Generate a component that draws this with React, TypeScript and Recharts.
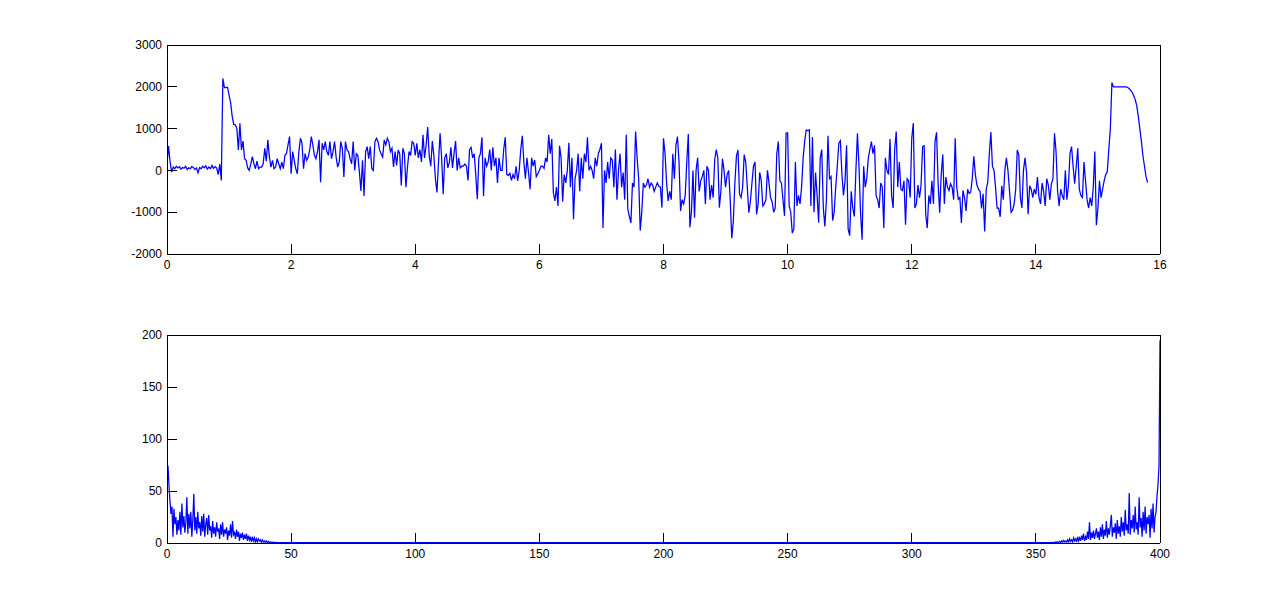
import React from 'react';
import { LineChart, Line, XAxis, YAxis } from 'recharts';

// ---------- top panel: signal (time in s) ----------
const TOP_STEP = 0.025;
const topValues = [
  150, 580, 200, -40, 80, 40, 100, 60, 90, 30,
  70, 50, 100, 20, 60, 40, 90, 70, 20, 60,
  -60, 70, 40, 100, 60, 110, 30, 80, 40, 120,
  50, 90, 60, -100, 150, -240, 2200, 1980, 1980, 1990,
  1800, 1620, 1300, 1100, 1090, 1010, 490, 1130, 490, 700,
  280, 240, 60, 0, 150, 330, 160, 40, 220, 40,
  80, 80, 160, 530, 220, 730, 320, 80, 240, 40,
  80, 280, 160, 40, 200, 40, 360, 400, 610, 810,
  -80, 450, 240, 40, -80, 450, 770, 650, 40, 400,
  240, 320, 490, 810, 610, 360, 280, 450, 730, -280,
  650, 490, 690, 450, 360, 690, 280, 450, 690, 320,
  80, 200, 690, 530, -160, 690, 490, 450, 280, 160,
  690, 0, 400, 360, -40, -490, 240, -610, 450, 570,
  280, 570, 40, 0, 690, 770, 690, 490, 400, 320,
  730, 610, 770, 690, 450, 530, 80, 450, 120, 490,
  400, -360, 530, 400, -400, 80, 450, 360, 690, 650,
  360, 650, 300, 500, 200, 850, 300, 600, 1040, 350,
  100, 700, 350, -200, -530, 200, 890, 300, -570, 300,
  400, 60, 200, 550, 60, 400, 700, 0, 300, 60,
  100, 100, 150, 100, -240, 500, 550, 300, 400, -100,
  -690, 300, 400, 790, -620, 300, 100, 200, 500, 0,
  550, 100, 300, -300, 300, 0, 0, 500, 790, -100,
  -120, -70, -240, -100, -200, 100, -250, 0, 500, 830,
  200, -200, 300, -50, -450, 300, 100, 250, -150, -80,
  0, 100, 100, 50, 300, 200, 850, 400, 750, -530,
  -730, -400, -850, 590, 300, -750, -100, -300, 0, 660,
  -400, 300, -1170, -200, 0, 400, -500, 300, -200, 400,
  200, 790, 0, 100, 0, -200, 300, 100, 400, 500,
  650, -1380, 0, -300, 200, -200, 300, 250, -400, 500,
  -700, 0, 400, -400, -50, -700, 850, -930, -1100, -1255,
  -300, -400, 930, 300, -200, -1440, -1000, -300, -400, -350,
  -200, -400, -300, -350, -500, -400, -300, -380, -400, -890,
  770, 400, -300, -730, -500, -700, 400, -200, 600, 810,
  200, -970, -700, -800, -600, 200, 870, -1360, -1000, 0,
  -1130, 0, 300, -500, -250, -150, 0, -810, 100, 0,
  -700, -350, -650, 250, 500, 300, -890, -500, 280, 0,
  -400, -100, 0, -700, -1620, -1215, -300, 340, 490, -570,
  -650, -400, 380, 200, -400, -1010, -750, -300, 100, 200,
  -1050, -800, -50, -240, -850, -800, -700, 0, -300, -650,
  -750, -1000, -900, 400, 690, -250, -300, -700, -1090, 890,
  900, -850, -1000, -1500, -1400, 200, -850, -600, -800, -400,
  300, 700, 970, 950, 970, -850, 800, -1000, -50, -600,
  -1250, 300, 500, -900, -1340, -700, 830, -200, -150, -1200,
  -1000, -400, 100, 650, 710, -100, -600, -250, 600, -1400,
  -1560, -500, -900, -1100, 0, 890, 100, -1000, -1660, 100,
  -400, -200, 300, 500, 690, 400, 600, -600, -700, -900,
  -300, -400, -1380, 300, 0, -100, 750, -600, -900, 500,
  930, -400, 200, -450, -480, -250, -1300, -200, -250, -650,
  770, 1130, -900, -800, -350, -650, -350, 570, 590, -1050,
  -1380, -600, -800, -250, -800, 690, 910, -320, -1010, -100,
  380, -800, -160, -400, -480, -320, -400, -700, 770, -400,
  -690, -650, -1255, -480, -650, -970, -450, -550, -520, -200,
  340, -100, -350, -450, -500, -910, -560, -1460, -450, -280,
  400, 915, 100, 0, -400, -900, -900, -1110, -370, -700,
  0, 300, 0, -480, -1000, -950, -800, -450, 490, 370,
  -650, -900, 0, 300, -50, -1050, -370, -450, -650, -450,
  -570, -160, -650, -800, -300, -500, -850, -200, -350, -700,
  -320, -200, 890, 450, -500, -850, -450, -600, -700, 0,
  -700, -350, 400, 570, 100, -320, 80, 530, -450, -600,
  -650, 200, -250, -700, -900, -650, -850, -400, 450, -1310,
  -900, -250, -650, -450, -250, -100, -40, 500, 1000, 2100,
  2000, 2000, 2000, 2000, 2000, 2000, 2000, 2000, 2000, 1990,
  1960, 1920, 1870, 1790, 1700, 1550, 1300, 1000, 700, 350,
  100, -150, -290,
];
const topXTicks = [0, 2, 4, 6, 8, 10, 12, 14, 16];
const topYTicks = [-2000, -1000, 0, 1000, 2000, 3000];

// ---------- bottom panel: spectrum magnitude ----------
const FFT_STEP = 0.4;
const fftLeft = [
  74, 74, 55, 40, 28, 35, 6, 33, 18, 25,
  8, 22, 12, 30, 8, 38, 15, 26, 10, 20,
  44, 9, 28, 14, 30, 6, 22, 47, 12, 25,
  9, 30, 14, 20, 7, 26, 11, 28, 6, 18,
  24, 8, 27, 12, 16, 5, 21, 9, 15, 6,
  20, 11, 14, 4, 18, 8, 20, 6, 13, 9,
  15, 3, 12, 7, 18, 5, 21, 8, 10, 4,
  13, 6, 11, 2, 9, 5, 10, 3, 8, 4,
  9, 2, 7, 3, 6, 1, 6, 2, 5, 1,
  4, 1, 4, 2, 3, 0.5, 3, 1, 2, 0.5,
  2, 0.5, 1.5, 0.3, 1.2, 0.3, 1, 0.3, 0.8, 0.3,
  0.5, 0.3, 0.4,
];
const fftMiddleX = [45, 355];
const fftMiddle = [0.3, 0.3];
const FFT_RIGHT_START = 355.2;
const fftRight = [
  0.3, 0.4, 0.3, 0.5, 0.3, 0.6, 0.4, 1, 0.4, 1.2,
  0.5, 1.5, 0.5, 2, 0.8, 2.5, 1, 2, 0.8, 3,
  1, 4, 1.5, 3, 1, 5, 2, 4, 1, 6,
  2, 5, 2, 7, 3, 9, 2, 6, 3, 11,
  4, 20, 3, 10, 5, 12, 4, 9, 14, 5,
  11, 3, 15, 6, 18, 4, 13, 7, 21, 5,
  14, 8, 17, 27, 6, 15, 10, 19, 4, 22,
  9, 16, 6, 25, 11, 20, 7, 32, 12, 18,
  9, 48, 8, 22, 14, 27, 10, 35, 13, 20,
  8, 44, 15, 24, 6, 30, 12, 35, 9, 25,
  18, 27, 5, 33, 14, 38, 10, 25, 30, 45,
  56, 74, 195,
];
const bottomXTicks = [0, 50, 100, 150, 200, 250, 300, 350, 400];
const bottomYTicks = [0, 50, 100, 150, 200];

const topData = topValues.map((v, i) => ({ x: +(i * TOP_STEP).toFixed(3), y: v }));
const bottomData = [
  ...fftLeft.map((v, i) => ({ x: +(i * FFT_STEP).toFixed(2), y: v })),
  ...fftMiddle.map((v, i) => ({ x: fftMiddleX[i], y: v })),
  ...fftRight.map((v, i) => ({ x: +(FFT_RIGHT_START + i * FFT_STEP).toFixed(2), y: v })),
];

const FONT = '"Liberation Sans", Arial, Helvetica, sans-serif';
const tickStyle = { fontSize: 12, fontFamily: FONT, fill: '#000' };
const lineProps = { stroke: '#000', strokeWidth: 1, shapeRendering: 'crispEdges' };

type PanelProps = {
  data: { x: number; y: number }[];
  xDomain: [number, number];
  xTicks: number[];
  yDomain: [number, number];
  yTicks: number[];
  top: number;
  margin: { top: number; right: number; bottom: number; left: number };
};

function Panel({ data, xDomain, xTicks, yDomain, yTicks, top, margin }: PanelProps) {
  return (
    <div style={{ position: 'absolute', left: 0, top, width: 1281, height: 305 }}>
      <LineChart width={1281} height={305} data={data} margin={margin}>
        <XAxis
          dataKey="x"
          type="number"
          domain={xDomain}
          ticks={xTicks}
          interval={0}
          allowDataOverflow
          height={30}
          tickSize={-10}
          tickMargin={16}
          tick={tickStyle}
          axisLine={lineProps}
          tickLine={lineProps}
          stroke="#000"
        />
        <XAxis
          xAxisId="top"
          orientation="top"
          type="number"
          domain={xDomain}
          ticks={xTicks}
          interval={0}
          allowDataOverflow
          height={1}
          tickSize={-10}
          tick={false}
          axisLine={lineProps}
          tickLine={lineProps}
          stroke="#000"
        />
        <YAxis
          type="number"
          domain={yDomain}
          ticks={yTicks}
          interval={0}
          allowDataOverflow
          width={50}
          tickSize={-10}
          tickMargin={15}
          tick={tickStyle}
          axisLine={lineProps}
          tickLine={lineProps}
          stroke="#000"
        />
        <YAxis
          yAxisId="right"
          orientation="right"
          type="number"
          domain={yDomain}
          ticks={yTicks}
          interval={0}
          allowDataOverflow
          width={1}
          tickSize={-10}
          tick={false}
          axisLine={lineProps}
          tickLine={lineProps}
          stroke="#000"
        />
        <Line
          dataKey="y"
          type="linear"
          stroke="#0000ff"
          strokeWidth={1.25}
          dot={false}
          activeDot={false}
          isAnimationActive={false}
        />
      </LineChart>
    </div>
  );
}

export default function App() {
  return (
    <div style={{ position: 'absolute', left: 0, top: 0, width: 1281, height: 610, background: '#fff' }}>
      <Panel
        data={topData}
        xDomain={[0, 16]}
        xTicks={topXTicks}
        yDomain={[-2000, 3000]}
        yTicks={topYTicks}
        top={0}
        margin={{ top: 44, right: 120, bottom: 21, left: 117 }}
      />
      <Panel
        data={bottomData}
        xDomain={[0, 400]}
        xTicks={bottomXTicks}
        yDomain={[0, 200]}
        yTicks={bottomYTicks}
        top={305}
        margin={{ top: 29, right: 120, bottom: 37, left: 117 }}
      />
    </div>
  );
}
